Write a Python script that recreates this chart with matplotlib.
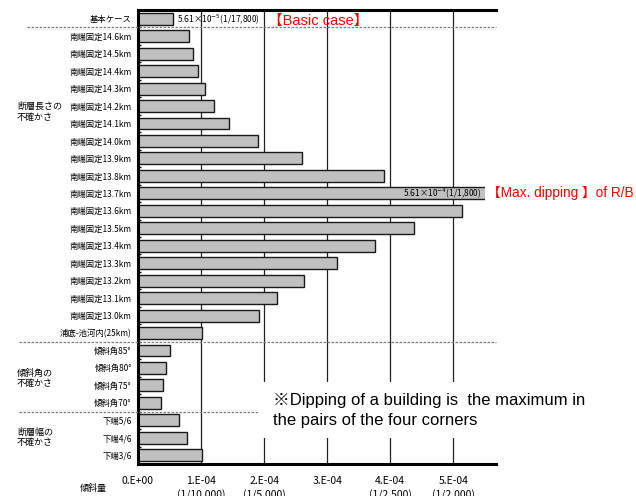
import matplotlib
matplotlib.use('Agg')
import matplotlib.pyplot as plt
from matplotlib.transforms import blended_transform_factory as btf
from matplotlib.patches import Rectangle
from matplotlib.lines import Line2D

JP = ['Noto Sans CJK JP', 'DejaVu Sans']
EN = ['Liberation Sans', 'Noto Sans CJK JP', 'DejaVu Sans']
plt.rcParams['mathtext.fontset'] = 'dejavusans'

categories = ['基本ケース',
              '南端固定14.6km', '南端固定14.5km', '南端固定14.4km', '南端固定14.3km',
              '南端固定14.2km', '南端固定14.1km', '南端固定14.0km', '南端固定13.9km',
              '南端固定13.8km', '南端固定13.7km', '南端固定13.6km', '南端固定13.5km',
              '南端固定13.4km', '南端固定13.3km', '南端固定13.2km', '南端固定13.1km',
              '南端固定13.0km', '浦底-池河内(25km)',
              '傾斜角85°', '傾斜角80°', '傾斜角75°', '傾斜角70°',
              '下端5/6', '下端4/6', '下端3/6']
values = [0.561e-4,
          0.81e-4, 0.87e-4, 0.95e-4, 1.06e-4,
          1.20e-4, 1.45e-4, 1.90e-4, 2.60e-4,
          3.90e-4, 5.61e-4, 5.13e-4, 4.37e-4,
          3.76e-4, 3.15e-4, 2.63e-4, 2.21e-4,
          1.91e-4, 1.01e-4,
          0.50e-4, 0.44e-4, 0.40e-4, 0.36e-4,
          0.65e-4, 0.78e-4, 1.01e-4]
xtick_vals = [0, 1e-4, 2e-4, 3e-4, 4e-4, 5e-4]
xtick_top = ['0.E+00', '1.E-04', '2.E-04', '3.E-04', '4.E-04', '5.E-04']
xtick_bottom = ['', '(1/10,000)', '(1/5,000)', '', '(1/2,500)', '(1/2,000)']
groups = ['断層長さの\n不確かさ', '傾斜角の\n不確かさ', '断層幅の\n不確かさ']

W, H = 636, 496
fig = plt.figure(figsize=(W / 100, H / 100), dpi=100)
ax = fig.add_axes([138 / W, 1 - 464 / H, 347 / W, 454 / H])

ypos = list(range(len(categories)))
ax.barh(ypos, values, height=0.68, color='#C0C0C0', edgecolor='#1a1a1a',
        linewidth=1.0, zorder=3)
ax.set_ylim(len(categories) - 0.5, -0.5)
ax.set_xlim(0, 5.5e-4)
for v in xtick_vals[1:]:
    ax.axvline(v, color='#222222', lw=0.9, zorder=1)

for s in ['top', 'right', 'bottom']:
    ax.spines[s].set_visible(False)
ax.spines['left'].set_linewidth(2.2)
ax.spines['left'].set_zorder(4)
ax.plot([0, 1.032], [1, 1], transform=ax.transAxes, clip_on=False, color='k', lw=2.2, zorder=4)
ax.plot([0, 1.032], [0, 0], transform=ax.transAxes, clip_on=False, color='k', lw=2.2, zorder=4)

ax.set_xticks([])
ax.set_yticks(ypos)
ax.set_yticklabels(categories, fontsize=6, family=JP)
ax.tick_params(axis='y', length=0, pad=4.5)
ax.set_yticks([i + 0.5 for i in ypos[:-1]], minor=True)
ax.tick_params(axis='y', which='minor', direction='in', length=2.5, width=1)

# x tick labels
tr = btf(ax.transData, fig.transFigure)
for v, t1, t2 in zip(xtick_vals, xtick_top, xtick_bottom):
    ax.text(v, 1 - 481 / H, t1, transform=tr, ha='center', va='center',
            fontsize=7.5, family=JP, clip_on=False)
    if t2:
        ax.text(v, 1 - 495 / H, t2, transform=tr, ha='center', va='center',
                fontsize=7.5, family=JP, clip_on=False)
fig.text(93 / W, 1 - 488 / H, '傾斜量', ha='center', va='center', fontsize=6.5, family=JP)

# group labels
for g, yc in zip(groups, [112, 378.5, 437.5]):
    fig.text(17 / W, 1 - yc / H, g, ha='left', va='center', fontsize=6.5,
             family=JP, linespacing=1.25)

# dashed separators
trs = btf(fig.transFigure, ax.transData)
for yv, x0 in [(0.5, 27), (18.5, 19), (22.5, 19)]:
    fig.add_artist(Line2D([x0 / W, 496 / W], [yv, yv], transform=trs, color='#7a7a7a',
                          lw=0.9, ls=(0, (2, 1.2)), zorder=2))

# annotations
ax.annotate(r'5.61×10$^{-5}$(1/17,800)', xy=(values[0], 0), xytext=(2.5, 0),
            textcoords='offset points', ha='left', va='center', fontsize=6,
            family=JP, zorder=5)
ax.annotate(r'5.61×10$^{-4}$(1/1,800)', xy=(1, 10), xycoords=('axes fraction', 'data'),
            xytext=(-3, 0), textcoords='offset points', ha='right', va='center',
            fontsize=6, family=JP, zorder=5)
ax.text(268 / W, 0.1, '【Basic case】', transform=trs, ha='left', va='center',
        fontsize=10.5, color='#FF0000', family=EN, clip_on=False)
ax.text(487 / W, 10, '【Max. dipping 】of R/B', transform=trs, ha='left', va='center',
        fontsize=9.8, color='#FF0000', family=EN, clip_on=False)

# note box
fig.add_artist(Rectangle((259 / W, 1 - 438 / H), (630 - 259) / W, 56 / H,
                         transform=fig.transFigure, facecolor='white',
                         edgecolor='none', zorder=5))
fig.text(273 / W, 1 - 400 / H, '※Dipping of a building is  the maximum in',
         ha='left', va='center', fontsize=12, family=EN, zorder=6)
fig.text(273 / W, 1 - 420 / H, 'the pairs of the four corners',
         ha='left', va='center', fontsize=12, family=EN, zorder=6)

fig.savefig('out.png', dpi=100)
